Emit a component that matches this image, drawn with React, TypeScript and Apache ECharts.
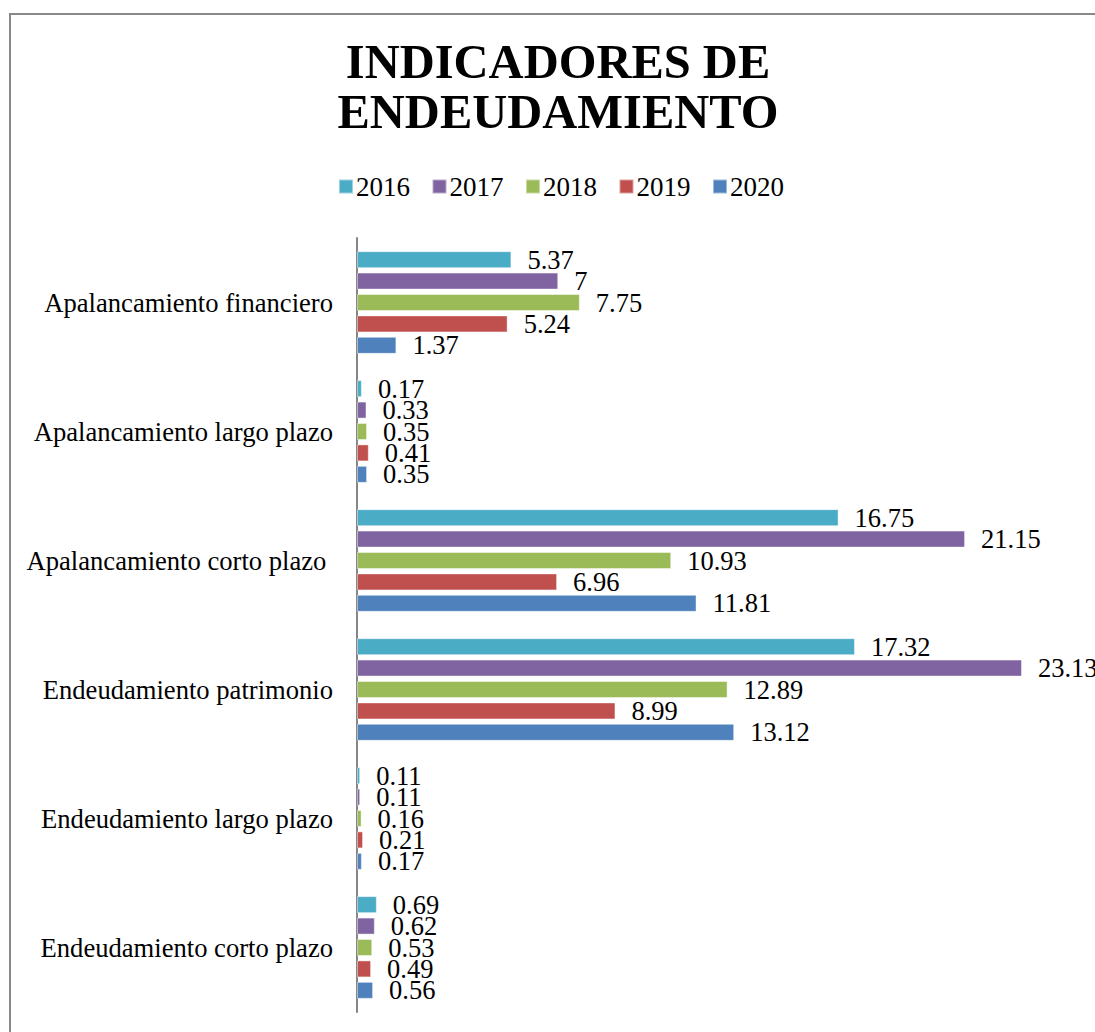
import React, { useEffect, useRef } from "react";
import * as echarts from "echarts";

const categories = [
  "Endeudamiento corto plazo",
  "Endeudamiento largo plazo",
  "Endeudamiento patrimonio",
  "Apalancamiento corto plazo ",
  "Apalancamiento largo plazo",
  "Apalancamiento financiero",
];
const years = ["2016", "2017", "2018", "2019", "2020"];
const v2016 = [0.69, 0.11, 17.32, 16.75, 0.17, 5.37];
const v2017 = [0.62, 0.11, 23.13, 21.15, 0.33, 7];
const v2018 = [0.53, 0.16, 12.89, 10.93, 0.35, 7.75];
const v2019 = [0.49, 0.21, 8.99, 6.96, 0.41, 5.24];
const v2020 = [0.56, 0.17, 13.12, 11.81, 0.35, 1.37];
const colors = ["#4BACC6", "#8064A2", "#9BBB59", "#C0504D", "#4F81BD"];

const FONT = "'Liberation Serif', 'Times New Roman', serif";

export default function App() {
  const ref = useRef<HTMLDivElement>(null);
  useEffect(() => {
    if (!ref.current) return;
    const chart = echarts.init(ref.current, null, { renderer: "svg" });
    const values = [v2016, v2017, v2018, v2019, v2020];
    const series = years.map((y, i) => ({
      name: y,
      type: "bar",
      data: values[i],
      barWidth: 17,
      barGap: "26%",
      itemStyle: { color: colors[i], borderColor: "rgba(255,255,255,0.45)", borderWidth: 1 },
      label: {
        show: true,
        position: "right",
        distance: 16,
        color: "#000",
        fontSize: 26.5,
        lineHeight: 20,
        fontFamily: FONT,
      },
    }));
    chart.setOption({
      animation: false,
      backgroundColor: "#fff",
      title: {
        text: "INDICADORES DE\nENDEUDAMIENTO",
        left: 553,
        textAlign: "center",
        top: 31,
        textStyle: {
          fontFamily: FONT,
          fontSize: 48.5,
          fontWeight: "bold",
          lineHeight: 50,
          color: "#000",
        },
      },
      legend: {
        data: years,
        left: 333,
        top: 168,
        itemWidth: 14,
        itemHeight: 14,
        itemGap: 21.5,
        icon: "rect",
        textStyle: { fontFamily: FONT, fontSize: 27, color: "#000", padding: [0, 0, 0, -2] },
      },
      grid: { left: 357, right: 19.25, top: 238, bottom: 20, containLabel: false },
      xAxis: {
        type: "value",
        min: 0,
        max: 25,
        show: false,
      },
      yAxis: {
        type: "category",
        data: categories,
        axisLine: { show: true, lineStyle: { color: "#868686", width: 2 } },
        axisTick: { show: false },
        axisLabel: { fontFamily: FONT, fontSize: 26.6, color: "#000", margin: 24 },
        splitLine: { show: false },
      },
      graphic: [
        {
          type: "rect",
          shape: { x: 10, y: 14, width: 1200, height: 1100 },
          style: { fill: "none", stroke: "#898989", lineWidth: 2 },
          silent: true,
          z: 100,
        },
      ],
      series,
    });
    return () => chart.dispose();
  }, []);
  return (
    <div
      ref={ref}
      style={{ position: "fixed", left: 0, top: 0, width: 1095, height: 1032 }}
    />
  );
}
